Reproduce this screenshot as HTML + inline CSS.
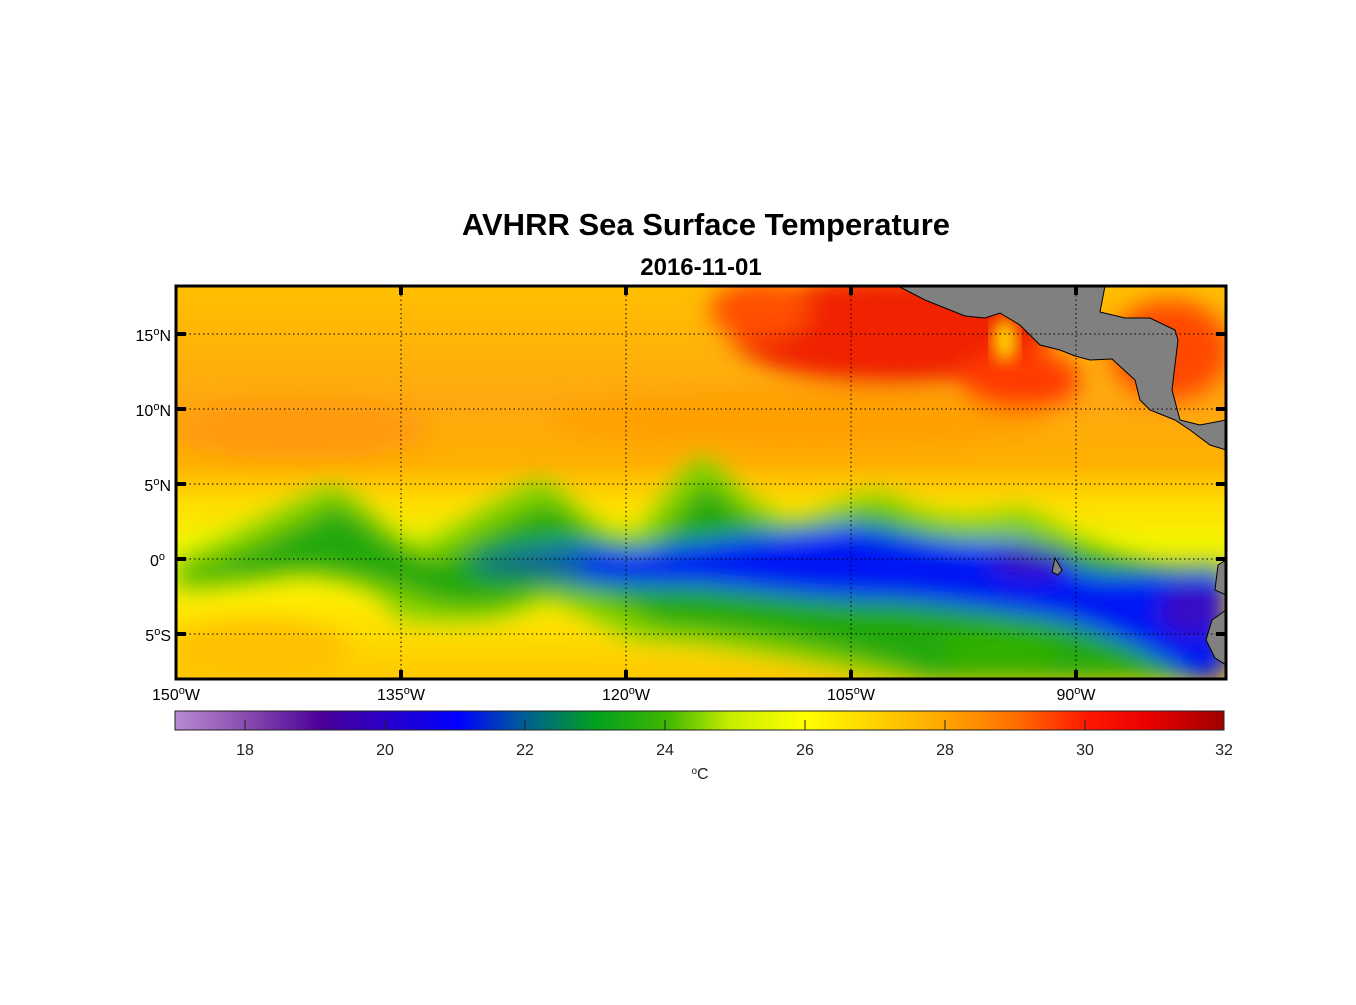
<!DOCTYPE html>
<html><head><meta charset="utf-8"><style>
body{margin:0;background:#fff;}
svg text{font-family:"Liberation Sans",Arial,sans-serif;}
</style></head><body>
<svg width="1356" height="1000" viewBox="0 0 1356 1000" xmlns="http://www.w3.org/2000/svg">
<defs>
<clipPath id="c"><rect x="176" y="286" width="1050" height="393"/></clipPath>
<filter id="b" x="-20%" y="-20%" width="140%" height="140%"><feGaussianBlur stdDeviation="12"/></filter>
<filter id="b2" x="-20%" y="-20%" width="140%" height="140%"><feGaussianBlur stdDeviation="8"/></filter>
<linearGradient id="cb" x1="0" x2="1" y1="0" y2="0">
<stop offset="0" stop-color="#b88ad0"/>
<stop offset="0.067" stop-color="#8a4cb0"/>
<stop offset="0.14" stop-color="#4a0098"/>
<stop offset="0.2" stop-color="#2a00c8"/>
<stop offset="0.27" stop-color="#0000ff"/>
<stop offset="0.33" stop-color="#005a9a"/>
<stop offset="0.4" stop-color="#00a020"/>
<stop offset="0.47" stop-color="#40b800"/>
<stop offset="0.53" stop-color="#c8ee00"/>
<stop offset="0.6" stop-color="#ffff00"/>
<stop offset="0.67" stop-color="#ffd000"/>
<stop offset="0.73" stop-color="#ffa800"/>
<stop offset="0.8" stop-color="#ff7000"/>
<stop offset="0.87" stop-color="#ff1800"/>
<stop offset="0.93" stop-color="#e80000"/>
<stop offset="1" stop-color="#a00000"/>
</linearGradient>
<linearGradient id="base" x1="0" x2="0" y1="286" y2="679" gradientUnits="userSpaceOnUse">
<stop offset="0" stop-color="#ffbf00"/>
<stop offset="0.3" stop-color="#ffa810"/>
<stop offset="0.45" stop-color="#ffb000"/>
<stop offset="0.55" stop-color="#ffdc00"/>
<stop offset="0.65" stop-color="#f4f400"/>
<stop offset="0.8" stop-color="#ffec00"/>
<stop offset="1" stop-color="#ffc800"/>
</linearGradient>
</defs>
<text x="706" y="235" text-anchor="middle" font-size="31" font-weight="bold">AVHRR Sea Surface Temperature</text>
<text x="701" y="275" text-anchor="middle" font-size="24" font-weight="bold">2016-11-01</text>
<g clip-path="url(#c)">
<rect x="176" y="286" width="1050" height="393" fill="url(#base)"/>
<g filter="url(#b)">
<ellipse cx="300" cy="430" rx="130" ry="30" fill="#ff9a10"/>
<ellipse cx="800" cy="420" rx="250" ry="30" fill="#ffa000"/>
<ellipse cx="260" cy="650" rx="90" ry="30" fill="#ffc000"/>
<path d="M176 560 C230 540 290 500 330 485 C360 490 390 540 420 545 C470 520 520 480 545 480 C580 500 600 545 640 530 C670 490 690 450 710 455 C730 480 760 515 800 520 C840 500 870 490 890 495 C930 520 970 520 1010 510 C1040 505 1050 530 1090 540 C1140 570 1200 560 1226 560 L1226 679 L900 679 C800 660 700 640 640 640 C600 630 570 600 540 600 C500 630 430 620 400 620 C380 590 350 580 300 575 C250 585 200 590 176 590Z" fill="#80d000"/>
<path d="M176 572 C240 560 300 525 335 505 C370 520 400 560 440 560 C480 540 520 510 550 505 C580 520 600 555 650 545 C680 520 700 480 712 485 C730 510 770 535 810 535 C850 520 870 510 885 515 C930 540 980 545 1030 540 L1226 580 L1226 679 L930 679 C850 650 750 630 660 625 C620 600 580 590 540 590 C500 610 450 610 420 595 C380 580 330 570 300 570 C250 575 200 580 176 580Z" fill="#20a810"/>
<path d="M470 560 C520 545 580 545 630 550 C700 545 780 530 850 525 C900 535 950 545 1010 540 C1050 545 1060 570 1100 575 C1150 575 1200 570 1226 570 L1226 679 L1190 679 C1150 650 1100 630 1060 620 C1000 610 950 605 900 600 C820 600 760 590 700 585 C620 585 560 580 500 575Z" fill="#0018f4"/>
<ellipse cx="1030" cy="562" rx="40" ry="15" fill="#3a10c0"/>
<ellipse cx="1190" cy="610" rx="30" ry="25" fill="#3a10c0"/>
<ellipse cx="530" cy="565" rx="60" ry="12" fill="#0a6a80"/>
<ellipse cx="1000" cy="650" rx="60" ry="20" fill="#30b000"/>
<ellipse cx="890" cy="330" rx="160" ry="55" fill="#f02000"/>
<ellipse cx="1020" cy="380" rx="60" ry="30" fill="#ff3a00"/>
<ellipse cx="1170" cy="350" rx="60" ry="50" fill="#ff4a00"/>
<ellipse cx="760" cy="310" rx="50" ry="30" fill="#ff5000"/>
</g>
<ellipse cx="1005" cy="340" rx="12" ry="22" fill="#ffd800" filter="url(#b2)"/>
<g fill="#808080" stroke="#000" stroke-width="1">
<path d="M898 286 L925 300 L965 316 L985 318 L1000 313 L1020 325 L1040 345 L1060 350 L1075 356 L1090 360 L1112 359 L1135 380 L1140 400 L1150 410 L1175 420 L1190 430 L1210 445 L1226 450 L1226 420 L1200 425 L1180 420 L1172 390 L1178 340 L1175 330 L1150 318 L1125 318 L1100 312 L1105 286Z"/>
<path d="M1226 560 L1218 565 L1215 590 L1226 595Z"/>
<path d="M1226 610 L1212 620 L1206 640 L1215 658 L1226 665Z"/>
<path d="M1055 558 L1062 570 L1058 575 L1052 572Z"/>
</g>
</g>
<g stroke="#000" stroke-width="1" stroke-dasharray="1.5,3" fill="none">
<line x1="176" x2="1226" y1="334" y2="334"/><line x1="176" x2="1226" y1="409" y2="409"/>
<line x1="176" x2="1226" y1="484" y2="484"/><line x1="176" x2="1226" y1="559" y2="559"/>
<line x1="176" x2="1226" y1="634" y2="634"/>
<line x1="401" x2="401" y1="286" y2="679"/><line x1="626" x2="626" y1="286" y2="679"/>
<line x1="851" x2="851" y1="286" y2="679"/><line x1="1076" x2="1076" y1="286" y2="679"/>
</g>
<rect x="176" y="286" width="1050" height="393" fill="none" stroke="#000" stroke-width="3"/>
<g stroke="#000" stroke-width="4">
<line x1="401" x2="401" y1="286" y2="295"/><line x1="626" x2="626" y1="286" y2="295"/><line x1="851" x2="851" y1="286" y2="295"/><line x1="1076" x2="1076" y1="286" y2="295"/>
<line x1="401" x2="401" y1="670" y2="679"/><line x1="626" x2="626" y1="670" y2="679"/><line x1="851" x2="851" y1="670" y2="679"/><line x1="1076" x2="1076" y1="670" y2="679"/>
<line x1="176" x2="186" y1="334" y2="334"/><line x1="176" x2="186" y1="409" y2="409"/><line x1="176" x2="186" y1="484" y2="484"/><line x1="176" x2="186" y1="559" y2="559"/><line x1="176" x2="186" y1="634" y2="634"/>
<line x1="1216" x2="1226" y1="334" y2="334"/><line x1="1216" x2="1226" y1="409" y2="409"/><line x1="1216" x2="1226" y1="484" y2="484"/><line x1="1216" x2="1226" y1="559" y2="559"/><line x1="1216" x2="1226" y1="634" y2="634"/>
</g>
<g font-size="16" text-anchor="end">
<text x="171" y="341">15<tspan dy="-6" font-size="11">o</tspan><tspan dy="6">N</tspan></text>
<text x="171" y="416">10<tspan dy="-6" font-size="11">o</tspan><tspan dy="6">N</tspan></text>
<text x="171" y="491">5<tspan dy="-6" font-size="11">o</tspan><tspan dy="6">N</tspan></text>
<text x="165" y="566">0<tspan dy="-6" font-size="11">o</tspan></text>
<text x="171" y="641">5<tspan dy="-6" font-size="11">o</tspan><tspan dy="6">S</tspan></text>
</g>
<g font-size="16" text-anchor="middle">
<text x="176" y="700">150<tspan dy="-6" font-size="11">o</tspan><tspan dy="6">W</tspan></text>
<text x="401" y="700">135<tspan dy="-6" font-size="11">o</tspan><tspan dy="6">W</tspan></text>
<text x="626" y="700">120<tspan dy="-6" font-size="11">o</tspan><tspan dy="6">W</tspan></text>
<text x="851" y="700">105<tspan dy="-6" font-size="11">o</tspan><tspan dy="6">W</tspan></text>
<text x="1076" y="700">90<tspan dy="-6" font-size="11">o</tspan><tspan dy="6">W</tspan></text>
</g>
<rect x="175" y="711" width="1049" height="19" fill="url(#cb)" stroke="#222" stroke-width="1"/>
<g stroke="#222" stroke-width="1">
<line x1="245" x2="245" y1="720" y2="730"/><line x1="385" x2="385" y1="720" y2="730"/><line x1="525" x2="525" y1="720" y2="730"/><line x1="665" x2="665" y1="720" y2="730"/><line x1="805" x2="805" y1="720" y2="730"/><line x1="945" x2="945" y1="720" y2="730"/><line x1="1085" x2="1085" y1="720" y2="730"/>
</g>
<g font-size="16" text-anchor="middle" fill="#222">
<text x="245" y="755">18</text><text x="385" y="755">20</text><text x="525" y="755">22</text><text x="665" y="755">24</text><text x="805" y="755">26</text><text x="945" y="755">28</text><text x="1085" y="755">30</text><text x="1224" y="755">32</text>
<text x="700" y="779"><tspan font-size="10" dy="-5">o</tspan><tspan dy="5">C</tspan></text>
</g>
</svg>
</body></html>
